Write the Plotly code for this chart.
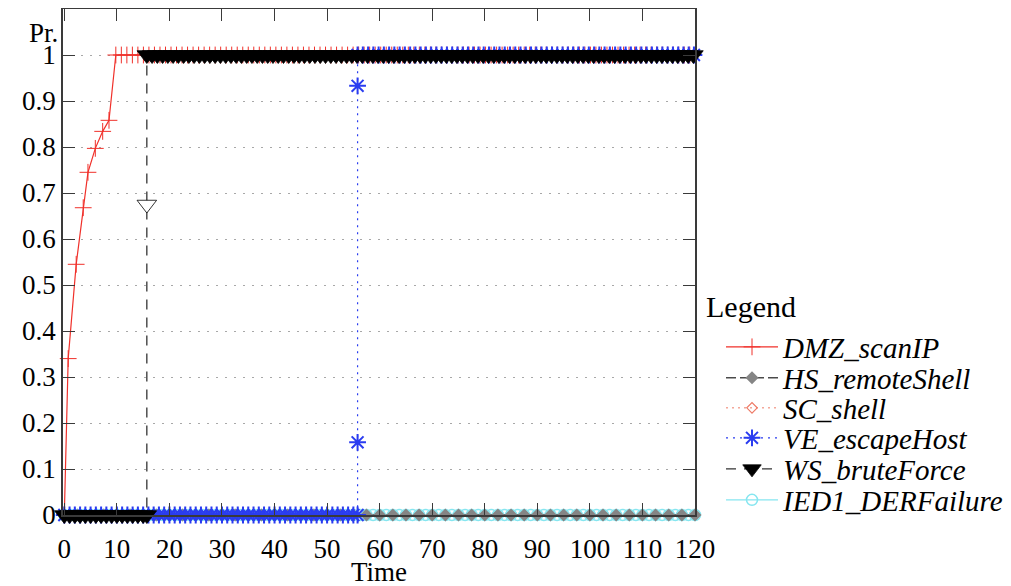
import numpy as np
import plotly.graph_objects as go

# ---------------- data ----------------
x_ticks = [0, 10, 20, 30, 40, 50, 60, 70, 80, 90, 100, 110, 120]
y_ticks = [0, 0.1, 0.2, 0.3, 0.4, 0.5, 0.6, 0.7, 0.8, 0.9, 1]

# DMZ_scanIP : rising part, then plateau at 1
dmz_rise_time = [0, 0.74, 2.26, 3.6, 4.5, 5.9, 7.3, 8.5, 9.8]
dmz_rise_pr = [0, 0.34, 0.545, 0.668, 0.745, 0.797, 0.834, 0.858, 1.0]
dmz_plateau_pr = 1.0

# WS_bruteForce : 0 until the jump, then 1
ws_jump_time = 15.7
ws_before_pr = 0.0
ws_jump_pr = [0.0, 0.675, 1.0]
ws_after_pr = 1.0

# VE_escapeHost : 0 until the jump, then 1
ve_jump_time = 55.8
ve_before_pr = 0.0
ve_jump_pr = [0.0, 0.158, 0.933, 1.0]
ve_after_pr = 1.0

# HS_remoteShell, SC_shell, IED1_DERFailure stay at 0
hs_pr = 0.0
sc_pr = 0.0
ied_pr = 0.0

t_end = 120

# sample times at which the tool drew markers
dmz_plateau_time = list(np.round(np.arange(10.85, t_end + 0.01, 1.05), 2))
ws_before_time = list(np.arange(0, ws_jump_time, 1.0))
ws_after_time = list(np.round(np.arange(ws_jump_time + 1.0, t_end + 0.01, 1.0), 2))
ve_before_time = list(np.arange(0, ve_jump_time, 1.0))
ve_after_time = list(np.round(np.arange(ve_jump_time + 1.0, t_end + 0.01, 1.0), 2))
hs_time = list(np.arange(0, t_end + 0.01, 2.5))
sc_time = list(np.arange(0, t_end + 0.01, 2.5))
ied_time = list(np.arange(0, t_end + 0.01, 1.25))

# ---------------- build series ----------------
dmz_x = dmz_rise_time + dmz_plateau_time
dmz_y = dmz_rise_pr + [dmz_plateau_pr] * len(dmz_plateau_time)

ws_x = ws_before_time + [ws_jump_time] * len(ws_jump_pr) + ws_after_time
ws_y = [ws_before_pr] * len(ws_before_time) + ws_jump_pr + [ws_after_pr] * len(ws_after_time)

ve_x = ve_before_time + [ve_jump_time] * len(ve_jump_pr) + ve_after_time
ve_y = [ve_before_pr] * len(ve_before_time) + ve_jump_pr + [ve_after_pr] * len(ve_after_time)

FONT = "Liberation Serif, Times New Roman, serif"

RED = "#f0302a"
GRAY = "#858585"
SALMON = "#ee7a66"
BLUE = "#2a3cf0"
BLACK = "#000000"
CYAN = "#86e6f0"

# the page body has an 8px margin: work in screen pixels, then convert
OFF = 8
FIG_W, FIG_H = 1011 - OFF, 586 - OFF
plot_top, plot_bottom, plot_left, plot_right = 9 - OFF, 515 - OFF, 63 - OFF, 695 - OFF
plot_h = plot_bottom - plot_top
plot_w = plot_right - plot_left


def py(px):  # screen y -> paper y
    return (plot_bottom - (px - OFF)) / plot_h


def pxp(px):  # screen x -> paper x
    return ((px - OFF) - plot_left) / plot_w


legend_slot = {
    "DMZ_scanIP": "legend",
    "HS_remoteShell": "legend2",
    "SC_shell": "legend3",
    "VE_escapeHost": "legend4",
    "WS_bruteForce": "legend5",
    "IED1_DERFailure": "legend6",
}
legend_y_px = [347, 378, 408, 438, 469, 500]

fig = go.Figure()

# drawing order (bottom -> top)
fig.add_trace(go.Scatter(
    x=sc_time, y=[sc_pr] * len(sc_time), name="SC_shell", legend=legend_slot["SC_shell"],
    mode="lines+markers", cliponaxis=False,
    line=dict(color=SALMON, width=1, dash="2px,4px"),
    marker=dict(symbol="diamond-open", size=8, color=SALMON, line=dict(color=SALMON, width=1.2)),
))
fig.add_trace(go.Scatter(
    x=ied_time, y=[ied_pr] * len(ied_time), name="IED1_DERFailure", legend=legend_slot["IED1_DERFailure"],
    mode="lines+markers", cliponaxis=False,
    line=dict(color=CYAN, width=1.2),
    marker=dict(symbol="circle-open", size=11, color=CYAN, line=dict(color=CYAN, width=1.5)),
))
fig.add_trace(go.Scatter(
    x=dmz_x, y=dmz_y, name="DMZ_scanIP", legend=legend_slot["DMZ_scanIP"],
    mode="lines+markers", cliponaxis=False,
    line=dict(color=RED, width=1.2),
    marker=dict(symbol="cross-thin-open", size=12, color=RED, line=dict(color=RED, width=1)),
))
fig.add_trace(go.Scatter(
    x=hs_time, y=[hs_pr] * len(hs_time), name="HS_remoteShell", legend=legend_slot["HS_remoteShell"],
    mode="lines+markers", cliponaxis=False,
    line=dict(color="#4a4a4a", width=1.5, dash="10px,4px"),
    marker=dict(symbol="diamond", size=10, color=GRAY),
))
fig.add_trace(go.Scatter(
    x=ve_x, y=ve_y, name="VE_escapeHost", legend=legend_slot["VE_escapeHost"],
    mode="lines+markers", cliponaxis=False,
    line=dict(color=BLUE, width=1.2, dash="2px,5px"),
    marker=dict(symbol="asterisk-open", size=14, color=BLUE, line=dict(color=BLUE, width=2)),
))
ws_fill = [BLACK if v in (0.0, 1.0) else "white" for v in ws_y]
fig.add_trace(go.Scatter(
    x=ws_x, y=ws_y, name="WS_bruteForce", legend=legend_slot["WS_bruteForce"],
    mode="lines+markers", cliponaxis=False,
    line=dict(color="#333333", width=1.3, dash="10px,8px"),
    marker=dict(symbol="triangle-down", size=17, color=ws_fill, line=dict(color=BLACK, width=0.8)),
))

axis_common = dict(
    showline=True, mirror="ticks", linecolor="#3a3a3a", linewidth=1.5,
    ticks="inside", ticklen=12, tickwidth=1.3, tickcolor="#3a3a3a",
    zeroline=False, automargin=False,
    tickfont=dict(family=FONT, size=27, color="black"),
)

fig.update_xaxes(
    range=[-0.25, 120], tickvals=x_ticks, ticktext=[str(v) for v in x_ticks],
    showgrid=False, ticklabelstandoff=9, **axis_common,
)
fig.update_yaxes(
    range=[0, 1.1], tickvals=y_ticks, ticktext=[f"{v:g}" for v in y_ticks],
    showgrid=True, gridcolor="#a8a8a8", gridwidth=1, griddash="2px,7px",
    ticklabelstandoff=0, **axis_common,
)

legend_style = dict(
    x=pxp(721), xanchor="left", yanchor="middle",
    font=dict(family=FONT, size=29, color="black", style="italic"),
    bgcolor="rgba(0,0,0,0)", borderwidth=0, itemwidth=52,
    itemsizing="trace",
)
layout_legends = {}
for key, ypx in zip(legend_slot.values(), legend_y_px):
    layout_legends[key] = dict(legend_style, y=py(ypx))

fig.update_layout(
    width=FIG_W, height=FIG_H,
    margin=dict(l=plot_left, r=FIG_W - plot_right, t=plot_top, b=FIG_H - plot_bottom, pad=0),
    paper_bgcolor="white", plot_bgcolor="white",
    font=dict(family=FONT, size=27, color="black"),
    showlegend=True,
    annotations=[
        dict(text="Time", x=pxp(379), y=py(572), xref="paper", yref="paper",
             xanchor="center", yanchor="middle", showarrow=False,
             font=dict(family=FONT, size=27, color="black")),
        dict(text="Pr.", x=pxp(43), y=py(33), xref="paper", yref="paper",
             xanchor="center", yanchor="middle", showarrow=False,
             font=dict(family=FONT, size=27, color="black")),
        dict(text="Legend", x=pxp(704), y=py(307), xref="paper", yref="paper",
             xanchor="left", yanchor="middle", showarrow=False,
             font=dict(family=FONT, size=30, color="black")),
    ],
    **layout_legends,
)

fig.write_html("out.html")
